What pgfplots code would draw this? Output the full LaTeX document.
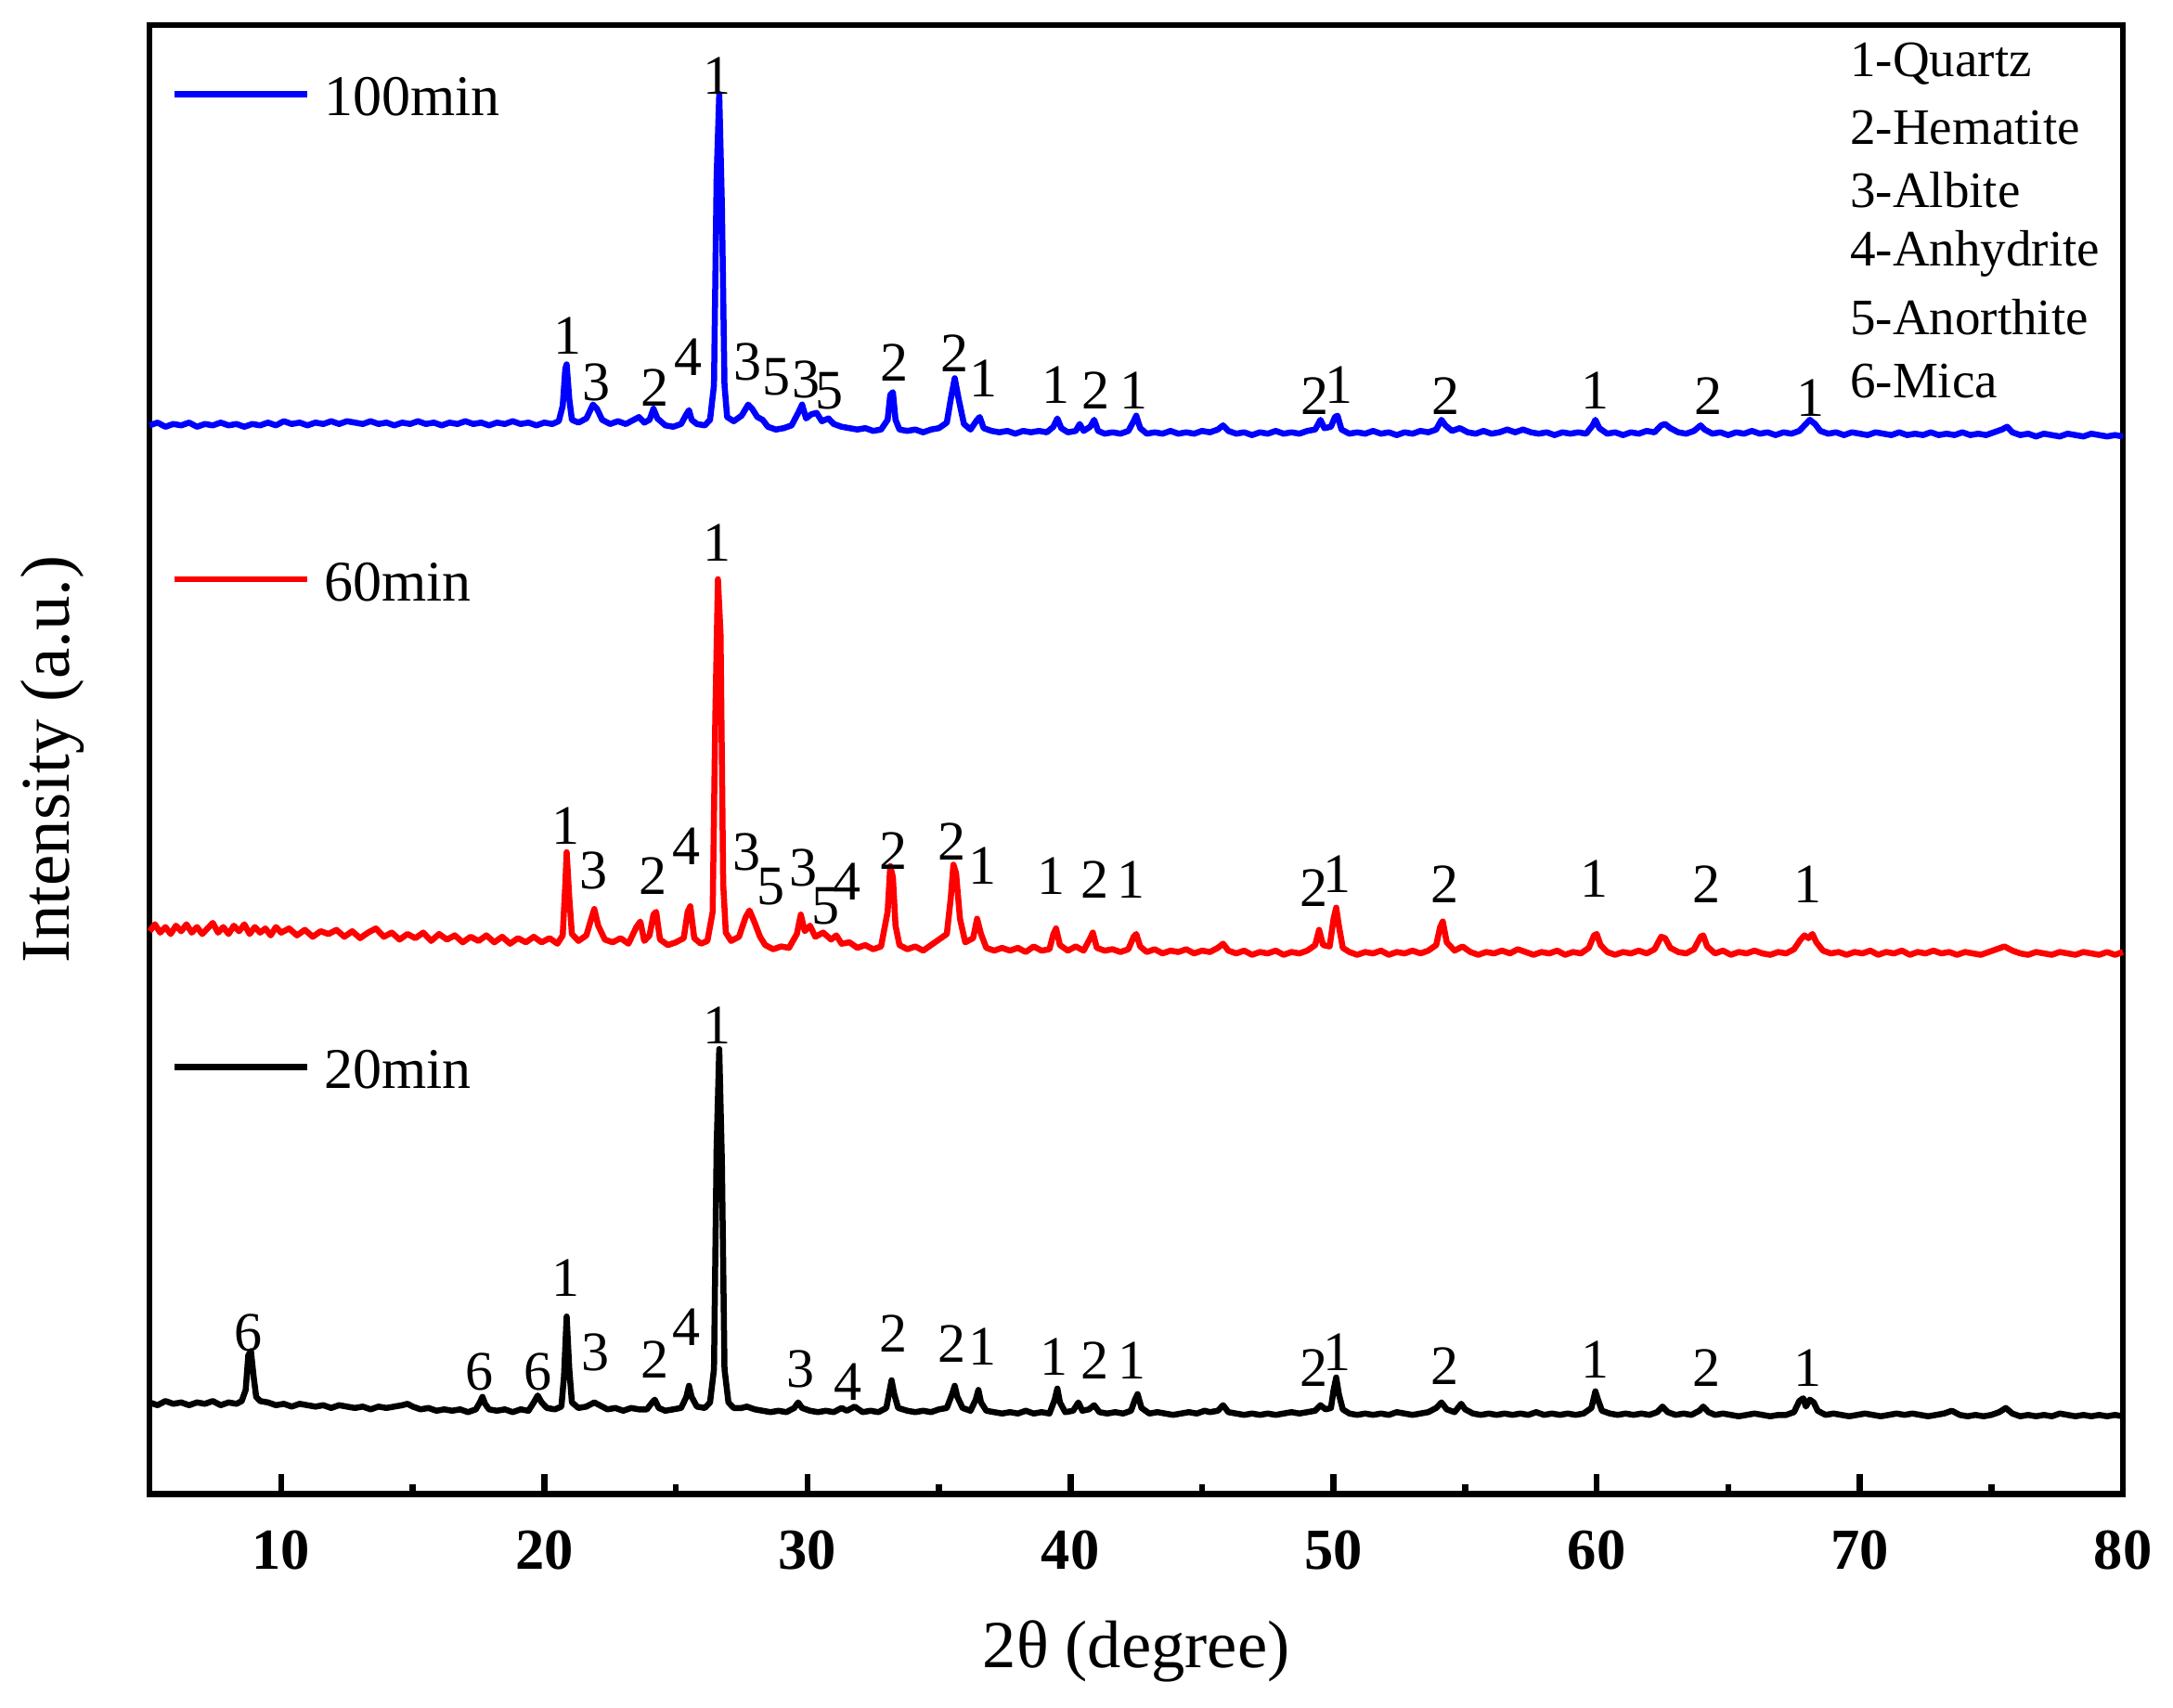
\documentclass[border=0pt]{standalone}
\usepackage{pgfplots}
\pgfplotsset{compat=1.18}
\usepackage{fontspec}
\setmainfont{Liberation Serif}
\newcommand{\lbl}[3]{\node[font=\fontsize{12}{12}\selectfont, inner sep=0pt] at (axis cs:#1,#2) {#3};}
\newcommand{\key}[2]{\node[anchor=west, font=\fontsize{11}{11}\selectfont, inner sep=0pt] at (axis cs:69.6,#1) {#2};}
\begin{document}
\begin{tikzpicture}
\useasboundingbox (-32.23pt,-45.96pt) rectangle (435.8pt,321.75pt);
\begin{axis}[
  scale only axis, width=425pt, height=316.4pt,
  xmin=5, xmax=80, ymin=0, ymax=1060,
  axis line style={line width=1.3pt},
  xtick={10,20,...,80}, minor xtick={15,25,...,75},
  ytick=\empty,
  xtick pos=bottom, tick align=inside,
  major tick length=4.2pt, minor tick length=2pt,
  every tick/.style={black, line width=1.3pt},
  /pgf/number format/assume math mode=true,
  xticklabel style={font=\bfseries\fontsize{12.5}{12.5}\selectfont, anchor=center, yshift=-12.2pt},
  xlabel={2θ (degree)},
  xlabel style={font=\fontsize{14.5}{14.5}\selectfont, at={(axis description cs:0.5,0)}, anchor=center, yshift=-34pt},
  ylabel={Intensity (a.u.)},
  ylabel style={font=\fontsize{15}{15}\selectfont, at={(axis description cs:-0.0492,0.5)}, anchor=center},
  clip=false,
]
% 20min (black)
\addplot[black, line width=1.3pt, line join=round] coordinates {
(5,66)(5.3,64)(5.6,67)(5.9,65)(6.2,66)(6.5,64)(6.8,66)(7.1,65)(7.4,67)(7.7,64)(8.0,66)(8.3,65)(8.5,67)(8.65,75)(8.75,100)(8.85,103)(8.95,85)(9.05,70)(9.2,67)(9.5,66)(9.8,64)(10.1,65)(10.4,63)(10.7,65)(11.0,64)(11.3,63)(11.6,64)(11.9,62)(12.2,64)(12.5,63)(12.8,62)(13.1,63)(13.4,61)(13.7,63)(14.0,62)(14.3,63)(14.6,64)(14.8,65)(15.0,63)(15.3,61)(15.6,62)(15.9,60)(16.2,61)(16.5,60)(16.8,61)(17.1,59)(17.4,61)(17.55,66)(17.65,70)(17.75,65)(17.9,61)(18.2,60)(18.5,61)(18.8,59)(19.1,61)(19.4,60)(19.6,66)(19.75,71)(19.9,66)(20.1,62)(20.4,61)(20.65,63)(20.75,85)(20.85,128)(20.95,90)(21.05,66)(21.3,62)(21.6,63)(21.9,66)(22.1,64)(22.4,61)(22.7,62)(23.0,60)(23.3,62)(23.6,61)(23.9,61)(24.1,66)(24.2,68)(24.35,62)(24.6,60)(24.9,61)(25.2,62)(25.4,70)(25.5,78)(25.6,70)(25.8,63)(26.1,62)(26.3,66)(26.45,90)(26.55,250)(26.65,321)(26.75,240)(26.85,90)(27.0,66)(27.2,62)(27.5,62)(27.7,63)(28.0,61)(28.3,60)(28.6,59)(28.9,60)(29.2,59)(29.5,62)(29.65,66)(29.8,62)(30.1,60)(30.4,59)(30.7,60)(31.0,59)(31.3,62)(31.5,60)(31.8,63)(32.1,59)(32.4,60)(32.7,59)(33.0,62)(33.1,72)(33.2,82)(33.3,72)(33.45,62)(33.8,60)(34.1,59)(34.4,60)(34.7,59)(35.0,61)(35.3,62)(35.5,72)(35.6,78)(35.7,70)(35.9,62)(36.2,60)(36.4,68)(36.5,75)(36.6,66)(36.8,60)(37.1,59)(37.4,58)(37.7,59)(38.0,58)(38.3,60)(38.6,58)(38.9,59)(39.2,58)(39.4,68)(39.5,76)(39.6,66)(39.8,59)(40.1,60)(40.3,66)(40.45,60)(40.7,61)(40.9,64)(41.1,59)(41.4,58)(41.7,59)(42.0,58)(42.3,60)(42.45,68)(42.55,72)(42.7,62)(43.0,58)(43.3,59)(43.6,58)(43.9,57)(44.2,58)(44.5,59)(44.8,58)(45.1,60)(45.3,59)(45.6,60)(45.8,64)(46.0,59)(46.3,58)(46.6,57)(46.9,58)(47.2,57)(47.5,58)(47.8,57)(48.1,58)(48.4,59)(48.7,58)(49.0,59)(49.3,60)(49.5,64)(49.7,61)(49.9,62)(50.0,75)(50.1,84)(50.2,72)(50.35,61)(50.6,58)(50.9,57)(51.2,58)(51.5,57)(51.8,58)(52.1,57)(52.4,59)(52.7,58)(53.0,57)(53.3,58)(53.6,59)(53.9,62)(54.1,66)(54.3,61)(54.6,59)(54.85,65)(55.0,61)(55.3,58)(55.6,57)(55.9,58)(56.2,57)(56.5,58)(56.8,57)(57.1,58)(57.4,57)(57.7,59)(58.0,57)(58.3,58)(58.6,57)(58.9,58)(59.2,57)(59.5,58)(59.8,62)(59.95,74)(60.05,68)(60.2,60)(60.5,58)(60.8,57)(61.1,58)(61.4,57)(61.7,58)(62.0,57)(62.3,59)(62.5,63)(62.7,59)(63.0,57)(63.3,58)(63.6,57)(63.9,60)(64.05,63)(64.25,59)(64.5,57)(64.8,58)(65.1,57)(65.4,56)(65.7,57)(66.0,58)(66.3,57)(66.6,56)(66.9,57)(67.2,57)(67.5,59)(67.7,67)(67.85,69)(67.95,63)(68.1,68)(68.25,66)(68.4,60)(68.7,57)(69.0,58)(69.3,57)(69.6,56)(69.9,57)(70.2,58)(70.5,57)(70.8,56)(71.1,57)(71.4,58)(71.7,57)(72.0,58)(72.3,57)(72.6,56)(72.9,57)(73.2,58)(73.5,60)(73.8,57)(74.1,56)(74.4,57)(74.7,56)(75.0,57)(75.3,59)(75.55,62)(75.8,58)(76.1,56)(76.4,57)(76.7,56)(77.0,57)(77.3,56)(77.6,58)(77.9,57)(78.2,56)(78.5,57)(78.8,56)(79.1,57)(79.4,56)(79.7,57)(80,56)
};
% 60min (red)
\addplot[red, line width=1.3pt, line join=round] coordinates {
(5,406)(5.2,411)(5.4,405)(5.6,409)(5.8,404)(6.0,410)(6.2,406)(6.4,411)(6.6,405)(6.8,409)(7.0,404)(7.2,408)(7.4,412)(7.6,405)(7.8,409)(8.0,404)(8.2,410)(8.4,406)(8.6,411)(8.8,404)(9.0,409)(9.2,405)(9.4,408)(9.6,403)(9.8,409)(10.0,405)(10.3,408)(10.6,403)(10.9,407)(11.2,402)(11.5,406)(11.8,404)(12.1,407)(12.4,402)(12.7,406)(13.0,401)(13.3,405)(13.6,408)(13.9,402)(14.2,405)(14.5,400)(14.8,404)(15.1,401)(15.4,405)(15.7,399)(16.0,404)(16.3,400)(16.6,403)(16.9,398)(17.2,402)(17.5,399)(17.8,403)(18.1,398)(18.4,402)(18.7,397)(19.0,401)(19.3,398)(19.6,402)(19.9,398)(20.2,401)(20.5,397)(20.7,403)(20.8,440)(20.85,463)(20.95,430)(21.05,404)(21.3,399)(21.6,403)(21.8,416)(21.9,422)(22.05,410)(22.3,400)(22.6,398)(22.9,401)(23.2,397)(23.5,409)(23.65,413)(23.8,399)(24.0,403)(24.15,418)(24.25,420)(24.4,400)(24.7,396)(25.0,398)(25.3,401)(25.45,420)(25.55,424)(25.7,401)(25.95,397)(26.2,399)(26.4,420)(26.5,560)(26.6,660)(26.7,620)(26.8,440)(26.9,405)(27.1,399)(27.4,402)(27.65,416)(27.8,421)(28.0,412)(28.2,402)(28.4,396)(28.7,393)(29.0,395)(29.3,394)(29.6,404)(29.75,418)(29.9,406)(30.1,410)(30.3,402)(30.6,405)(30.9,400)(31.1,403)(31.3,397)(31.6,398)(31.9,394)(32.2,396)(32.5,393)(32.8,395)(33.05,420)(33.15,453)(33.25,445)(33.35,410)(33.5,396)(33.8,393)(34.1,395)(34.4,392)(34.7,396)(35.0,400)(35.3,404)(35.45,430)(35.55,454)(35.65,448)(35.8,415)(36.0,398)(36.3,401)(36.45,415)(36.6,404)(36.8,394)(37.1,392)(37.4,394)(37.7,392)(38.0,394)(38.3,391)(38.6,395)(38.9,392)(39.2,393)(39.35,404)(39.45,408)(39.6,396)(39.9,392)(40.2,395)(40.5,392)(40.75,401)(40.85,405)(41.0,394)(41.3,392)(41.6,393)(41.9,391)(42.2,393)(42.4,402)(42.5,404)(42.65,395)(42.9,391)(43.2,393)(43.5,390)(43.8,392)(44.1,391)(44.4,393)(44.7,390)(45.0,392)(45.3,391)(45.6,394)(45.8,397)(46.0,392)(46.3,390)(46.6,392)(46.9,389)(47.2,391)(47.5,390)(47.8,392)(48.1,389)(48.4,391)(48.7,390)(49.0,392)(49.3,396)(49.45,407)(49.6,396)(49.85,395)(50.0,415)(50.1,423)(50.2,410)(50.35,394)(50.6,391)(50.9,389)(51.2,391)(51.5,390)(51.8,392)(52.1,389)(52.4,391)(52.7,390)(53.0,392)(53.3,390)(53.6,392)(53.9,396)(54.05,409)(54.15,413)(54.3,398)(54.6,392)(54.9,395)(55.2,391)(55.5,389)(55.8,391)(56.1,390)(56.4,392)(56.7,390)(57.0,393)(57.3,391)(57.6,389)(57.9,391)(58.2,390)(58.5,392)(58.8,389)(59.1,391)(59.4,390)(59.7,394)(59.9,403)(60.0,404)(60.15,396)(60.4,391)(60.7,389)(61.0,391)(61.3,390)(61.6,392)(61.9,390)(62.2,393)(62.45,402)(62.6,401)(62.8,394)(63.1,391)(63.4,390)(63.7,393)(63.95,402)(64.05,403)(64.2,395)(64.5,390)(64.8,392)(65.1,389)(65.4,391)(65.7,390)(66.0,392)(66.3,390)(66.6,389)(66.9,391)(67.2,390)(67.5,393)(67.75,400)(67.9,403)(68.05,401)(68.2,404)(68.35,398)(68.6,392)(68.9,390)(69.2,391)(69.5,389)(69.8,391)(70.1,390)(70.4,392)(70.7,389)(71.0,391)(71.3,390)(71.6,392)(71.9,389)(72.2,391)(72.5,390)(72.8,392)(73.1,390)(73.4,391)(73.7,389)(74.0,391)(74.3,390)(74.6,389)(74.9,391)(75.2,393)(75.5,395)(75.8,392)(76.1,390)(76.4,389)(76.7,391)(77.0,390)(77.3,389)(77.6,391)(77.9,390)(78.2,389)(78.5,391)(78.8,390)(79.1,389)(79.4,391)(79.7,389)(80,391)
};
% 100min (blue)
\addplot[blue, line width=1.3pt, line join=round] coordinates {
(5,771)(5.3,773)(5.6,770)(5.9,772)(6.2,771)(6.5,773)(6.8,770)(7.1,772)(7.4,771)(7.7,773)(8.0,771)(8.3,772)(8.6,770)(8.9,772)(9.2,771)(9.5,773)(9.8,771)(10.1,774)(10.4,772)(10.7,773)(11.0,771)(11.3,773)(11.6,772)(11.9,774)(12.2,772)(12.5,774)(12.8,773)(13.1,772)(13.4,774)(13.7,772)(14.0,773)(14.3,771)(14.6,773)(14.9,772)(15.2,774)(15.5,772)(15.8,773)(16.1,771)(16.4,773)(16.7,772)(17.0,774)(17.3,772)(17.6,773)(17.9,771)(18.2,773)(18.5,772)(18.8,774)(19.1,772)(19.4,773)(19.7,771)(20.0,773)(20.3,772)(20.55,774)(20.7,785)(20.8,812)(20.85,815)(20.95,790)(21.05,775)(21.3,773)(21.6,776)(21.85,786)(22.0,783)(22.2,775)(22.5,772)(22.8,774)(23.1,772)(23.4,775)(23.6,777)(23.8,773)(24.0,775)(24.15,783)(24.3,776)(24.6,771)(24.9,770)(25.2,772)(25.4,779)(25.5,782)(25.6,775)(25.8,772)(26.1,771)(26.3,775)(26.45,800)(26.55,950)(26.65,1010)(26.75,930)(26.85,800)(26.95,777)(27.2,774)(27.5,778)(27.75,786)(27.9,783)(28.1,777)(28.3,775)(28.5,770)(28.8,768)(29.1,769)(29.4,771)(29.65,780)(29.8,786)(29.95,776)(30.15,779)(30.35,780)(30.55,774)(30.8,776)(31.0,772)(31.3,770)(31.6,769)(31.9,768)(32.2,769)(32.5,767)(32.8,768)(33.05,775)(33.15,793)(33.25,795)(33.35,775)(33.5,768)(33.8,767)(34.1,768)(34.4,766)(34.7,768)(35.0,769)(35.3,773)(35.45,790)(35.6,805)(35.75,790)(35.95,772)(36.2,768)(36.45,775)(36.55,777)(36.7,769)(37.0,767)(37.3,766)(37.6,767)(37.9,765)(38.2,767)(38.5,766)(38.8,767)(39.1,766)(39.35,770)(39.5,776)(39.65,769)(39.9,766)(40.2,767)(40.35,772)(40.5,767)(40.75,770)(40.9,775)(41.05,767)(41.3,765)(41.6,766)(41.9,765)(42.2,767)(42.4,774)(42.5,778)(42.65,769)(42.9,765)(43.2,766)(43.5,765)(43.8,767)(44.1,765)(44.4,766)(44.7,765)(45.0,767)(45.3,766)(45.6,768)(45.8,771)(46.0,767)(46.3,765)(46.6,766)(46.9,764)(47.2,766)(47.5,765)(47.8,767)(48.1,765)(48.4,766)(48.7,765)(49.0,767)(49.3,768)(49.5,775)(49.65,769)(49.9,770)(50.05,777)(50.15,778)(50.3,768)(50.6,765)(50.9,766)(51.2,765)(51.5,767)(51.8,765)(52.1,766)(52.4,764)(52.7,766)(53.0,765)(53.3,767)(53.6,766)(53.9,768)(54.1,775)(54.25,771)(54.5,767)(54.8,769)(55.1,766)(55.4,765)(55.7,767)(56.0,765)(56.3,766)(56.6,768)(56.9,766)(57.2,768)(57.5,766)(57.8,765)(58.1,766)(58.4,764)(58.7,766)(59.0,765)(59.3,766)(59.6,765)(59.85,771)(59.95,775)(60.1,769)(60.4,765)(60.7,766)(61.0,764)(61.3,766)(61.6,765)(61.9,767)(62.2,766)(62.45,771)(62.6,772)(62.8,769)(63.1,766)(63.4,765)(63.7,767)(63.95,771)(64.1,768)(64.4,765)(64.7,766)(65.0,764)(65.3,766)(65.6,765)(65.9,767)(66.2,765)(66.5,766)(66.8,764)(67.1,766)(67.4,765)(67.7,767)(67.9,771)(68.1,775)(68.3,772)(68.5,767)(68.8,765)(69.1,766)(69.4,764)(69.7,766)(70.0,765)(70.3,764)(70.6,766)(70.9,765)(71.2,764)(71.5,766)(71.8,764)(72.1,765)(72.4,764)(72.7,766)(73.0,764)(73.3,765)(73.6,764)(73.9,766)(74.2,764)(74.5,765)(74.8,764)(75.1,766)(75.4,768)(75.6,770)(75.8,766)(76.1,764)(76.4,765)(76.7,763)(77.0,765)(77.3,764)(77.6,763)(77.9,765)(78.2,764)(78.5,763)(78.8,765)(79.1,764)(79.4,763)(79.7,764)(80,763)
};
% legend samples
\addplot[blue, line width=1.3pt] coordinates {(5.95,1010)(11.0,1010)};
\addplot[red, line width=1.3pt] coordinates {(5.95,660)(11.0,660)};
\addplot[black, line width=1.3pt] coordinates {(5.95,308)(11.0,308)};
\node[anchor=west, font=\fontsize{12.4}{12.4}\selectfont, inner sep=0pt] at (axis cs:11.6,1008) {100min};
\node[anchor=west, font=\fontsize{12.4}{12.4}\selectfont, inner sep=0pt] at (axis cs:11.6,658) {60min};
\node[anchor=west, font=\fontsize{12.4}{12.4}\selectfont, inner sep=0pt] at (axis cs:11.6,306) {20min};
% phase key
\key{1032}{1-Quartz}
\key{986}{2-Hematite}
\key{941}{3-Albite}
\key{895}{4-Anhydrite}
\key{849}{5-Anorthite}
\key{803}{6-Mica}
% blue labels
\lbl{26.57}{1023}{1}\lbl{20.88}{836}{1}\lbl{21.98}{802}{3}\lbl{24.2}{798}{2}\lbl{25.46}{820}{4}
\lbl{27.73}{817}{3}\lbl{28.84}{806}{5}\lbl{29.95}{804}{3}\lbl{30.84}{796}{5}\lbl{33.32}{816}{2}
\lbl{35.59}{823}{2}\lbl{36.70}{805}{1}\lbl{39.44}{800}{1}\lbl{40.97}{796}{2}\lbl{42.40}{796}{1}
\lbl{49.28}{792}{2}\lbl{50.2}{800}{1}\lbl{54.26}{792}{2}\lbl{59.96}{796}{1}\lbl{64.23}{792}{2}\lbl{68.13}{791}{1}
% red labels
\lbl{26.57}{686}{1}\lbl{20.82}{482}{1}\lbl{21.88}{450}{3}\lbl{24.15}{446}{2}\lbl{25.41}{467}{4}
\lbl{27.68}{463}{3}\lbl{28.63}{438}{5}\lbl{29.85}{452}{3}\lbl{30.7}{424}{5}\lbl{31.5}{442}{4}
\lbl{33.27}{464}{2}\lbl{35.49}{471}{2}\lbl{36.65}{453}{1}\lbl{39.28}{446}{1}\lbl{40.92}{443}{2}
\lbl{42.29}{443}{1}\lbl{49.25}{437}{2}\lbl{50.15}{447}{1}\lbl{54.21}{440}{2}\lbl{59.91}{444}{1}
\lbl{64.18}{440}{2}\lbl{68.03}{440}{1}
% black labels
\lbl{26.57}{338}{1}\lbl{8.74}{116}{6}\lbl{17.55}{88}{6}\lbl{19.77}{88}{6}\lbl{20.82}{156}{1}
\lbl{21.93}{102}{3}\lbl{24.2}{97}{2}\lbl{25.41}{120}{4}\lbl{29.74}{90}{3}\lbl{31.53}{81}{4}
\lbl{33.27}{116}{2}\lbl{35.49}{108}{2}\lbl{36.65}{106}{1}\lbl{39.39}{99}{1}\lbl{40.92}{96}{2}
\lbl{42.34}{96}{1}\lbl{49.25}{91}{2}\lbl{50.15}{102}{1}\lbl{54.21}{92}{2}\lbl{59.96}{97}{1}
\lbl{64.18}{91}{2}\lbl{68.03}{91}{1}
\end{axis}
\end{tikzpicture}
\end{document}
